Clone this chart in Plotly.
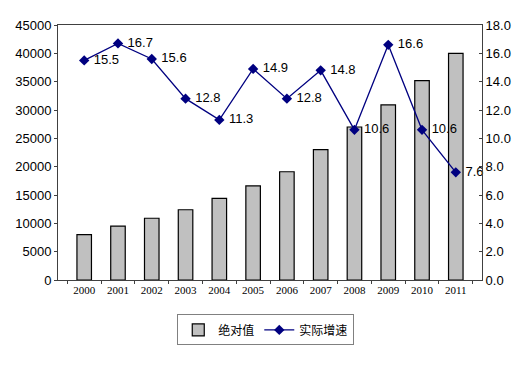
import plotly.graph_objects as go

years = ["2000", "2001", "2002", "2003", "2004", "2005", "2006", "2007", "2008", "2009", "2010", "2011"]
absolute = [8000, 9500, 10900, 12400, 14400, 16600, 19100, 23000, 27000, 30900, 35200, 40000]
growth = [15.5, 16.7, 15.6, 12.8, 11.3, 14.9, 12.8, 14.8, 10.6, 16.6, 10.6, 7.6]
left_ticks = [0, 5000, 10000, 15000, 20000, 25000, 30000, 35000, 40000, 45000]
right_ticks = [0, 2, 4, 6, 8, 10, 12, 14, 16, 18]

fig = go.Figure()
fig.add_trace(go.Bar(
    x=years, y=absolute, name="绝对值",
    marker=dict(color="#C0C0C0", line=dict(color="#000000", width=1.2)),
    width=0.43,
))
fig.add_trace(go.Scatter(
    x=years, y=growth, name="实际增速", yaxis="y2",
    mode="lines+markers+text",
    line=dict(color="#000080", width=1.3),
    marker=dict(symbol="diamond", size=8, color="#000080"),
    text=[f" {v:.1f}" for v in growth],
    textposition="middle right",
    textfont=dict(family="Liberation Sans, Arial", size=13, color="#000000"),
    cliponaxis=False,
))

fig.update_layout(
    width=523, height=370,
    margin=dict(l=58, r=41, t=25, b=90),
    plot_bgcolor="white", paper_bgcolor="white",
    bargap=0.57,
    showlegend=True,
    legend=dict(
        orientation="h", x=0.49, xanchor="center", y=-0.135, yanchor="top",
        bordercolor="#808080", borderwidth=1,
        font=dict(family="Noto Sans CJK SC", size=12, color="#000000"),
        traceorder="normal", itemwidth=30,
    ),
    xaxis=dict(
        type="category", showline=True, linecolor="#404040", linewidth=1,
        mirror=True, ticks="outside", tickson="boundaries", ticklen=3,
        tickcolor="#404040", showgrid=False,
        tickfont=dict(family="Liberation Serif, DejaVu Serif", size=11, color="#000000"),
    ),
    yaxis=dict(
        range=[0, 45000], tickvals=left_ticks, ticktext=[str(v) for v in left_ticks],
        showline=True, linecolor="#404040",
        linewidth=1, ticks="outside", ticklen=3, tickcolor="#404040", showgrid=False,
        zeroline=False,
        tickfont=dict(family="Liberation Sans, Arial", size=13, color="#000000"),
    ),
    yaxis2=dict(
        range=[0, 18], tickvals=right_ticks, ticktext=[f"{v:.1f}" for v in right_ticks],
        overlaying="y", side="right", showline=True, linecolor="#404040",
        linewidth=1, ticks="inside", ticklen=3, tickcolor="#404040", showgrid=False,
        zeroline=False,
        tickfont=dict(family="Liberation Sans, Arial", size=13, color="#000000"),
    ),
)

fig.write_html("out.html")
